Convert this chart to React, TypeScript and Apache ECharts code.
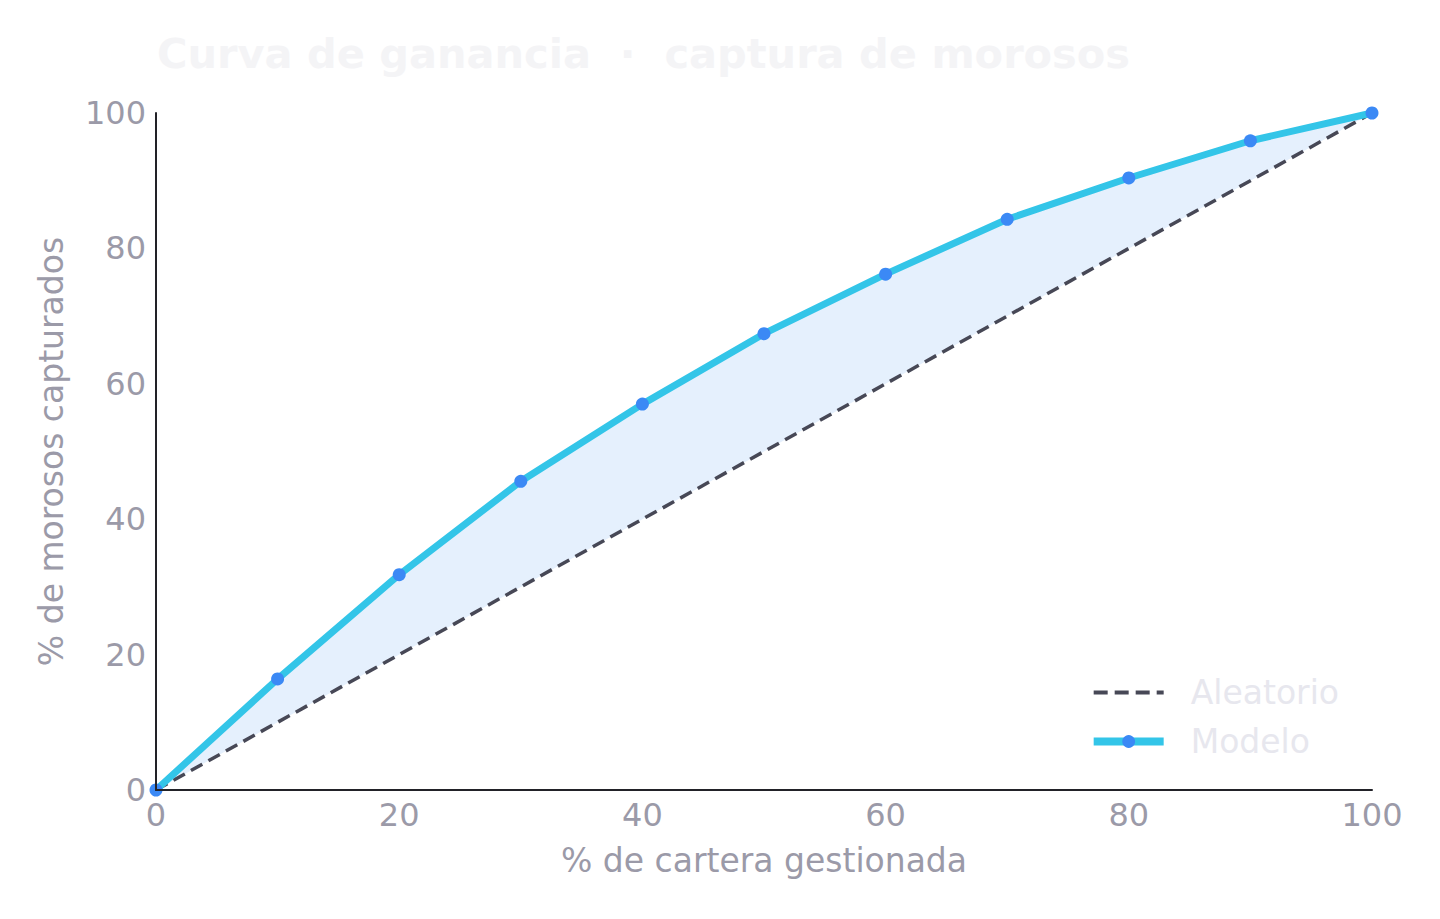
import React, { useEffect, useRef } from "react"
import * as echarts from "echarts"

const xValues = [0, 10, 20, 30, 40, 50, 60, 70, 80, 90, 100]
const modelValues = [0, 16.4, 31.8, 45.6, 57.0, 67.4, 76.2, 84.3, 90.4, 95.9, 100]
const randomValues = [0, 10, 20, 30, 40, 50, 60, 70, 80, 90, 100]

const FONT = "'DejaVu Sans', sans-serif"
const TICK_COLOR = "#9b9aa8"
const DASH_COLOR = "#474856"

export default function App() {
  const ref = useRef<HTMLDivElement>(null)

  useEffect(() => {
    if (!ref.current) return
    const chart = echarts.init(ref.current, undefined, { renderer: "svg" })

    const pair = (ys: number[]) => xValues.map((x, i) => [x, ys[i]])

    chart.setOption({
      animation: false,
      backgroundColor: "#ffffff",
      textStyle: { fontFamily: FONT },
      title: {
        text: "Curva de ganancia  ·  captura de morosos",
        left: 152,
        top: 27,
        textStyle: { color: "#f4f4f6", fontSize: 41.5, fontWeight: "bold", fontFamily: FONT },
      },
      grid: { left: 156, right: 68, top: 113, bottom: 129 },
      legend: {
        orient: "vertical",
        right: 96,
        top: 671,
        itemWidth: 70,
        itemHeight: 16,
        itemGap: 16,
        textStyle: { color: "#e7e7ee", fontSize: 33, fontFamily: FONT, padding: [0, 0, 0, 22] },
        data: [
          {
            name: "Aleatorio",
            itemStyle: { opacity: 0 },
            lineStyle: { color: DASH_COLOR, width: 4, type: [14, 7] },
          },
          {
            name: "Modelo",
            itemStyle: { color: "#3b89f5" },
            lineStyle: { color: "#33c5e8", width: 8 },
          },
        ],
      },
      xAxis: {
        type: "value",
        min: 0,
        max: 100,
        interval: 20,
        z: 5,
        name: "% de cartera gestionada",
        nameLocation: "middle",
        nameGap: 54,
        nameTextStyle: { color: TICK_COLOR, fontSize: 33, fontFamily: FONT },
        axisLine: { lineStyle: { color: "#222228", width: 2 } },
        axisTick: { show: false },
        splitLine: { show: false },
        axisLabel: { color: TICK_COLOR, fontSize: 32, margin: 9, fontFamily: FONT },
      },
      yAxis: {
        type: "value",
        min: 0,
        max: 100,
        interval: 20,
        z: 5,
        name: "% de morosos capturados",
        nameLocation: "middle",
        nameGap: 88,
        nameTextStyle: { color: TICK_COLOR, fontSize: 33, fontFamily: FONT },
        axisLine: { show: true, lineStyle: { color: "#222228", width: 2 } },
        axisTick: { show: false },
        splitLine: { show: false },
        axisLabel: { color: TICK_COLOR, fontSize: 32, margin: 10, fontFamily: FONT },
      },
      series: [
        {
          name: "_fill",
          type: "line",
          data: pair(modelValues),
          symbol: "none",
          lineStyle: { opacity: 0 },
          areaStyle: { color: "#e5f0fd", opacity: 1 },
          silent: true,
          z: 1,
        },
        {
          name: "_mask",
          type: "line",
          data: pair(randomValues),
          symbol: "none",
          lineStyle: { opacity: 0 },
          areaStyle: { color: "#ffffff", opacity: 1 },
          silent: true,
          z: 1,
        },
        {
          name: "Aleatorio",
          type: "line",
          data: pair(randomValues),
          symbol: "none",
          lineStyle: { color: DASH_COLOR, width: 3.5, type: [13, 7] },
          itemStyle: { color: DASH_COLOR },
          z: 3,
        },
        {
          name: "Modelo",
          type: "line",
          data: pair(modelValues),
          symbol: "circle",
          symbolSize: 13,
          showAllSymbol: true,
          lineStyle: { color: "#33c5e8", width: 7 },
          itemStyle: { color: "#3b89f5" },
          z: 4,
        },
      ],
    })

    return () => chart.dispose()
  }, [])

  return (
    <div
      ref={ref}
      style={{ position: "fixed", left: 0, top: 0, width: 1440, height: 919, background: "#ffffff" }}
    />
  )
}
